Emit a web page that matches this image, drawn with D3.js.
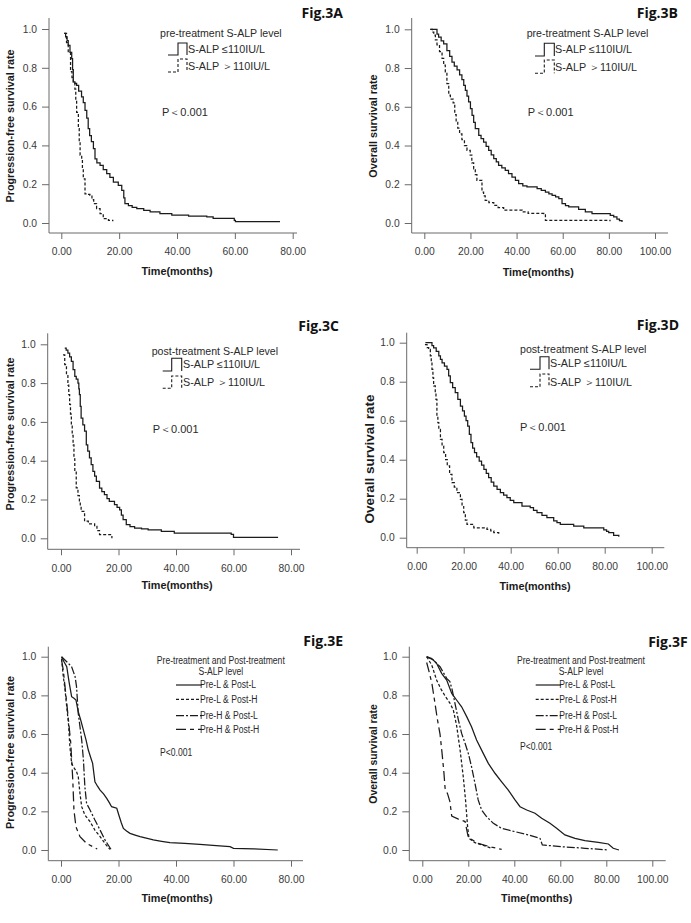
<!DOCTYPE html>
<html><head><meta charset="utf-8">
<script src="https://cdn.jsdelivr.net/npm/d3@7/dist/d3.min.js"></script>
<style>
html,body{margin:0;padding:0;background:#fff;}
svg{display:block;font-family:"Liberation Sans",Arial,sans-serif;}
</style></head><body>
<svg id="chart" width="691" height="923"></svg>
<script>
// ---------- DATA (time in months, survival proportion) ----------
const yTicks = [0, 0.2, 0.4, 0.6, 0.8, 1.0];
const xTicks80 = [0, 20, 40, 60, 80];
const xTicks100 = [0, 20, 40, 60, 80, 100];
const figLabels = ["Fig.3A", "Fig.3B", "Fig.3C", "Fig.3D", "Fig.3E", "Fig.3F"];
const yTitles = ["Progression-free survival rate", "Overall survival rate", "Progression-free survival rate",
                 "Overall survival rate", "Progression-free survival rate", "Overall survival rate"];
const xTitle = "Time(months)";
const legendTitles2 = ["pre-treatment S-ALP level", "post-treatment S-ALP level"];
const legendItems2 = ["S-ALP \u2264110IU/L", "S-ALP \uFF1E110IU/L"];
const legendTitle4 = ["Pre-treatment and Post-treatment", "S-ALP level"];
const legendItems4 = ["Pre-L & Post-L", "Pre-L & Post-H", "Pre-H & Post-L", "Pre-H & Post-H"];
const pTextWide = "P\uFF1C0.001";
const pTextNarrow = "P<0.001";

// Fig.3A PFS by pre-treatment S-ALP
const a_low = [[1.0,0.978],[1.5,0.96],[2.0,0.94],[2.4,0.916],[3.0,0.88],[3.6,0.847],[3.9,0.79],[4.15,0.727],[4.7,0.72],[5.3,0.71],[6.0,0.68],[7.0,0.65],[7.6,0.62],[8.2,0.58],[8.8,0.54],[9.3,0.486],[9.8,0.45],[10.4,0.42],[11.1,0.383],[11.65,0.33],[12.3,0.31],[13.4,0.297],[14.5,0.275],[15.7,0.254],[16.8,0.235],[18.0,0.211],[19.7,0.194],[20.9,0.168],[21.6,0.13],[22.0,0.1],[23.2,0.09],[24.5,0.08],[26.1,0.074],[28.5,0.065],[30.7,0.057],[34.1,0.048],[38.2,0.04],[44,0.036],[50.3,0.031],[52.5,0.024],[59.8,0.014],[60.2,0.007],[75.6,0.007]];
const a_high = [[1.0,0.978],[1.8,0.93],[2.4,0.88],[3.2,0.78],[3.7,0.75],[4.15,0.727],[4.7,0.69],[5.0,0.63],[5.3,0.57],[5.9,0.486],[6.2,0.42],[6.5,0.35],[7.05,0.33],[7.3,0.28],[7.6,0.228],[8.2,0.15],[9.0,0.147],[9.9,0.143],[10.6,0.12],[11.2,0.1],[12.2,0.074],[13.4,0.048],[14.5,0.022],[16.3,0.013],[17.8,0.009]];
// Fig.3B OS by pre-treatment S-ALP
const b_low = [[2.6,1.0],[5.5,0.975],[6.2,0.96],[7.3,0.94],[8.4,0.925],[9.8,0.89],[11,0.86],[12,0.83],[13,0.81],[14.2,0.79],[15.3,0.765],[16.3,0.74],[17.1,0.71],[17.8,0.685],[18.5,0.655],[19.2,0.625],[20,0.59],[20.7,0.556],[21.4,0.52],[22.1,0.487],[23.6,0.453],[24.6,0.435],[25.7,0.418],[26.8,0.395],[27.9,0.375],[29,0.352],[30.1,0.332],[31.2,0.315],[32.2,0.298],[33.6,0.285],[35.1,0.272],[36.5,0.255],[38,0.237],[39.5,0.22],[40.9,0.203],[42.7,0.192],[44.5,0.186],[48.9,0.177],[50.7,0.168],[52.5,0.16],[54,0.15],[55.4,0.143],[56.9,0.135],[58.3,0.126],[59.7,0.1],[61.2,0.09],[62.6,0.083],[66.9,0.07],[69.8,0.057],[72.7,0.048],[80.6,0.04],[82.1,0.031],[83.5,0.02],[84.6,0.012],[85.7,0.005]];
const b_high = [[2.6,1.0],[3.5,0.985],[4.1,0.97],[4.8,0.945],[5.5,0.92],[6.6,0.885],[7.7,0.85],[8.4,0.815],[9.1,0.78],[9.8,0.72],[10.6,0.66],[11.3,0.64],[12.5,0.62],[13.2,0.56],[13.8,0.52],[14.5,0.49],[15.3,0.46],[16.3,0.43],[17.4,0.4],[18.5,0.375],[19.9,0.35],[20.6,0.31],[21.4,0.28],[22.1,0.25],[22.8,0.22],[24.3,0.22],[25,0.16],[25.7,0.14],[26.4,0.117],[28,0.105],[30.1,0.091],[32,0.08],[34.4,0.066],[42.4,0.057],[45,0.05],[51.8,0.048],[52.5,0.014],[80.5,0.009]];
// Fig.3C PFS by post-treatment S-ALP
const c_low = [[1.3,0.98],[1.8,0.97],[2.4,0.955],[3.0,0.935],[3.6,0.912],[4.2,0.87],[4.8,0.835],[5.3,0.82],[5.9,0.8],[6.2,0.77],[6.4,0.74],[6.7,0.68],[7.0,0.62],[7.6,0.585],[8.2,0.552],[8.8,0.482],[9.3,0.45],[9.9,0.414],[10.5,0.38],[11.1,0.345],[11.7,0.32],[12.3,0.294],[13.4,0.259],[14.2,0.24],[15.1,0.225],[16.0,0.205],[16.8,0.19],[18.6,0.173],[19.5,0.16],[20.4,0.147],[21.0,0.12],[21.6,0.096],[22.7,0.07],[24,0.06],[25.6,0.053],[28,0.048],[30.3,0.044],[34.9,0.036],[39.4,0.027],[52,0.027],[59.2,0.02],[60,0.005],[75.5,0.005]];
const c_high = [[0.7,0.946],[1.3,0.895],[1.9,0.843],[2.4,0.79],[2.7,0.74],[3.0,0.69],[3.3,0.64],[3.6,0.585],[3.9,0.53],[4.2,0.482],[4.5,0.41],[4.8,0.345],[5.3,0.26],[5.9,0.22],[6.4,0.19],[6.7,0.16],[7.0,0.139],[8.2,0.088],[9.5,0.075],[11.7,0.062],[12.5,0.04],[13.4,0.019],[17.7,0.0]];
// Fig.3D OS by post-treatment S-ALP
const d_low = [[3.7,1.0],[6.5,0.985],[7.2,0.974],[8.3,0.955],[9.4,0.932],[10.1,0.915],[10.8,0.897],[11.8,0.88],[12.9,0.863],[13.6,0.83],[14.3,0.795],[15.3,0.77],[16.4,0.744],[17.5,0.71],[18.6,0.675],[19.5,0.65],[20.3,0.624],[21.0,0.6],[21.7,0.572],[22.4,0.53],[23.1,0.487],[23.8,0.46],[24.6,0.436],[25.5,0.415],[26.6,0.393],[27.6,0.372],[28.6,0.35],[29.6,0.33],[30.6,0.308],[31.7,0.285],[32.8,0.265],[34.2,0.248],[35.6,0.231],[37,0.218],[38.4,0.205],[39.8,0.192],[41.3,0.18],[44.8,0.162],[48.3,0.154],[49.7,0.14],[51.2,0.128],[53.3,0.115],[55.4,0.103],[58.3,0.086],[59.7,0.077],[61.1,0.068],[66.8,0.06],[71.1,0.051],[79.6,0.04],[80.8,0.033],[81.7,0.026],[83.8,0.012],[86,0.005]];
const d_high = [[3.5,0.99],[4.4,0.975],[5.1,0.966],[5.8,0.932],[6.2,0.9],[6.5,0.863],[6.9,0.82],[7.2,0.778],[7.9,0.74],[8.2,0.71],[8.6,0.624],[9.0,0.59],[9.4,0.556],[10.1,0.504],[10.8,0.47],[11.5,0.436],[12.3,0.4],[13.0,0.368],[14.0,0.325],[15,0.282],[16,0.26],[17.1,0.231],[18.6,0.197],[19.3,0.16],[20,0.128],[20.7,0.09],[21.4,0.068],[24.3,0.051],[29.9,0.043],[31.5,0.035],[32.8,0.026],[34.9,0.012]];
// Fig.3E PFS by combined pre/post-treatment S-ALP
const e_LL = [[0.2,1.0],[1.0,0.975],[2.0,0.948],[2.8,0.87],[3.7,0.793],[4.5,0.785],[5.2,0.776],[6.0,0.716],[6.9,0.67],[7.8,0.62],[8.7,0.57],[9.5,0.517],[10.3,0.48],[11,0.448],[11.8,0.353],[12.7,0.33],[13.6,0.31],[14.8,0.29],[15.9,0.267],[16.8,0.245],[17.6,0.224],[19.4,0.216],[20.3,0.172],[21,0.14],[21.7,0.112],[22.8,0.098],[24,0.086],[25.8,0.077],[27.5,0.069],[30,0.06],[32.1,0.052],[35,0.045],[37.9,0.038],[43,0.034],[48.3,0.029],[54,0.023],[58.8,0.017],[60,0.009],[67,0.006],[75.4,0.0]];
const e_LH = [[0.2,0.99],[0.8,0.897],[1.4,0.83],[2.0,0.74],[2.6,0.655],[3.1,0.534],[3.7,0.448],[4.3,0.431],[5.4,0.405],[6.0,0.38],[6.6,0.293],[7.2,0.224],[8.3,0.181],[10.1,0.147],[11.8,0.103],[13.6,0.069],[15.3,0.034],[17,0.003]];
const e_HL = [[0.2,1.0],[2.0,0.974],[3.7,0.948],[4.9,0.897],[5.4,0.845],[6.0,0.707],[6.6,0.638],[7.2,0.569],[7.8,0.466],[8.3,0.328],[8.9,0.241],[10.1,0.207],[11.8,0.155],[13.6,0.103],[15.3,0.052],[17.4,0.003]];
const e_HH = [[0.2,0.983],[0.8,0.93],[1.4,0.845],[2.0,0.76],[2.6,0.672],[3.4,0.552],[4.1,0.362],[4.5,0.207],[5.2,0.12],[6.6,0.069],[8.9,0.034],[12.6,0.005]];
// Fig.3F OS by combined pre/post-treatment S-ALP
const f_LL = [[1.9,1.0],[4.1,0.99],[6.2,0.966],[8.4,0.914],[10.6,0.879],[12.8,0.81],[14.9,0.776],[17.1,0.741],[19.3,0.69],[21.4,0.638],[23.6,0.569],[26.5,0.5],[28.7,0.448],[31.6,0.397],[34.5,0.353],[37.4,0.31],[40.3,0.259],[42.5,0.224],[45.4,0.207],[49,0.19],[51.9,0.164],[55.5,0.138],[58.4,0.112],[62,0.078],[66.4,0.06],[70.7,0.048],[76.5,0.04],[80.9,0.031],[83,0.009],[85.5,0.0]];
const f_LH = [[1.9,1.0],[4.1,0.957],[6.2,0.88],[8.0,0.835],[10.0,0.795],[12.0,0.76],[13.5,0.724],[14.9,0.645],[16.4,0.52],[17.8,0.38],[18.8,0.259],[19.7,0.12],[20.3,0.06],[22.9,0.038],[27.2,0.021],[30.1,0.009]];
const f_HL = [[1.9,1.0],[4.8,0.983],[7.7,0.948],[10.6,0.888],[12,0.871],[13,0.828],[14.2,0.759],[15.7,0.672],[17.1,0.603],[18.6,0.552],[20,0.5],[21.4,0.431],[22.9,0.345],[24.3,0.259],[25.8,0.207],[28,0.172],[30.9,0.138],[34.5,0.112],[40.3,0.095],[46.1,0.078],[51.2,0.06],[52.2,0.026],[60.6,0.017],[70.7,0.009],[80.9,0.0]];
const f_HH = [[1.9,0.97],[3.0,0.92],[4.2,0.86],[5.5,0.76],[6.5,0.68],[7.7,0.6],[8.6,0.5],[9.4,0.4],[9.9,0.32],[11,0.29],[12,0.25],[12.8,0.175],[15.7,0.16],[18.6,0.147],[19.4,0.1],[20,0.065],[24.3,0.034],[30.1,0.015],[34.5,0.003]];

// ---------- DRAWING ----------
const svg = d3.select("#chart");
const INK = "#1b1b1b";
const dashStyles = { solid: null, dash: "3,2", dot: "3,2", dashdot: "8,2,2,2", longdash: "10,4,4,4" };

const panels = [
  { fig: 0, series: [a_low, a_high], styles: ["solid","dash"], step: true, xTicks: xTicks80,
    ax: 49, top: 18, axisY: 233, right: 297, x0: 61.3, xEnd: 292.7, y0: 223, y1: 29,
    figPos: [343, 18], yt: [10, 126, 10.8], xt: [177, 275],
    leg2: { title: legendTitles2[0], tx: 160, ty: 37, sx: 168, ss: 178, se: 187, textX: 188,
            rows: [[55, 43, 53], [72, 59, 70]], px: 162, py: 115.5 } },
  { fig: 1, series: [b_low, b_high], styles: ["solid","dash"], step: true, xTicks: xTicks100,
    ax: 411.7, top: 18, axisY: 233, right: 668, x0: 424.3, xEnd: 655, y0: 223, y1: 29.3,
    figPos: [678, 18], yt: [373.3, 126, 10.8], xt: [538.3, 276],
    leg2: { title: legendTitles2[0], tx: 526.7, ty: 37, sx: 535, ss: 544.3, se: 554.3, textX: 555,
            rows: [[56, 43.3, 53], [73.3, 60, 71]], px: 527.7, py: 115.7 } },
  { fig: 2, series: [c_low, c_high], styles: ["solid","dash"], step: true, xTicks: xTicks80,
    ax: 47.7, top: 333.3, axisY: 549.3, right: 300, x0: 61, xEnd: 291, y0: 538.3, y1: 344.3,
    figPos: [339, 330.5], yt: [10.7, 434, 10.8], xt: [177, 589],
    leg2: { title: legendTitles2[1], tx: 151.7, ty: 355, sx: 162.7, ss: 171.7, se: 181.7, textX: 183,
            rows: [[371, 358.3, 368.3], [388.3, 376, 385.7]], px: 152.7, py: 432.7 } },
  { fig: 3, series: [d_low, d_high], styles: ["solid","dash"], step: true, xTicks: xTicks100,
    ax: 406.7, top: 332.7, axisY: 547.7, right: 664.3, x0: 416.7, xEnd: 651.7, y0: 537.7, y1: 342.7,
    figPos: [679, 330], yt: [369, 459, 13.5], xt: [535, 590],
    leg2: { title: legendTitles2[1], tx: 520, ty: 353.3, sx: 530, ss: 540, se: 549, textX: 550,
            rows: [[369.3, 356.7, 367.3], [386.7, 374, 385.7]], px: 520, py: 431 } },
  { fig: 4, series: [e_LL, e_LH, e_HL, e_HH], styles: ["solid","dot","dashdot","longdash"], step: false, xTicks: xTicks80,
    ax: 48.3, top: 646.7, axisY: 860.7, right: 303, x0: 61, xEnd: 291, y0: 850, y1: 656.7,
    figPos: [343, 645.7], yt: [10.7, 752.5, 10.8], xt: [177, 902],
    leg4: { cx: 220.8, t1: 664, t2: 675.3, lx0: 176, lx1: 201.7, textX: 200, titleW: 128,
            lines: [685, 699.3, 715.7, 729.3], texts: [688.3, 703, 719, 733.3], px: 160, py: 756 } },
  { fig: 5, series: [f_LL, f_LH, f_HL, f_HH], styles: ["solid","dot","dashdot","longdash"], step: false, xTicks: xTicks100,
    ax: 409.3, top: 646.7, axisY: 860.7, right: 665.7, x0: 422.3, xEnd: 652.3, y0: 850, y1: 656.7,
    figPos: [687.7, 646.7], yt: [373.3, 754, 10.4], xt: [536.7, 902],
    leg4: { cx: 581, t1: 664, t2: 675.3, lx0: 535.7, lx1: 561, textX: 559.3, titleW: 128,
            lines: [685, 699.3, 715.7, 729.3], texts: [688.3, 703, 719, 733.3], px: 520, py: 750 } }
];

panels.forEach(p => {
  const g = svg.append("g");
  const xMax = p.xTicks[p.xTicks.length - 1];
  const x = d3.scaleLinear().domain([0, xMax]).range([p.x0, p.xEnd]);
  const y = d3.scaleLinear().domain([0, 1]).range([p.y0, p.y1]);

  // axis lines
  g.append("line").attr("x1", p.ax).attr("x2", p.ax).attr("y1", p.top).attr("y2", p.axisY)
    .attr("stroke", "#6a6a6a").attr("stroke-width", 1);
  g.append("line").attr("x1", p.ax).attr("x2", p.right).attr("y1", p.axisY).attr("y2", p.axisY)
    .attr("stroke", "#6a6a6a").attr("stroke-width", 1);

  // y axis ticks
  const ya = g.append("g").attr("transform", `translate(${p.ax},0)`)
    .call(d3.axisLeft(y).tickValues(yTicks).tickSize(7).tickPadding(5).tickFormat(d3.format(".1f")));
  ya.select(".domain").remove();
  ya.selectAll("line").attr("stroke", "#6a6a6a");
  ya.selectAll("text").attr("font-family", "'Liberation Sans',Arial,sans-serif").attr("font-size", 10.3).attr("fill", "#3a3a3a");

  // x axis ticks
  const xa = g.append("g").attr("transform", `translate(0,${p.axisY})`)
    .call(d3.axisBottom(x).tickValues(p.xTicks).tickSize(6).tickPadding(9).tickFormat(d3.format(".2f")));
  xa.select(".domain").remove();
  xa.selectAll("line").attr("stroke", "#6a6a6a");
  xa.selectAll("text").attr("font-family", "'Liberation Sans',Arial,sans-serif").attr("font-size", 10.3).attr("fill", "#3a3a3a");

  // titles
  g.append("text").attr("x", p.figPos[0]).attr("y", p.figPos[1]).attr("text-anchor", "end")
    .attr("font-family", "'Open Sans','Liberation Sans',sans-serif").attr("font-weight", 700)
    .attr("font-size", 14).attr("fill", "#111").text(figLabels[p.fig]);
  g.append("text").attr("transform", `translate(${p.yt[0]},${p.yt[1]}) rotate(-90)`)
    .attr("text-anchor", "middle").attr("dy", "0.35em").attr("font-weight", 700)
    .attr("font-size", p.yt[2]).attr("fill", "#1a1a1a").text(yTitles[p.fig]);
  g.append("text").attr("x", p.xt[0]).attr("y", p.xt[1]).attr("text-anchor", "middle")
    .attr("font-weight", 700).attr("font-size", 10.8).attr("fill", "#1a1a1a").text(xTitle);

  // curves
  const line = d3.line().x(d => x(d[0])).y(d => y(d[1]))
    .curve(p.step ? d3.curveStepAfter : d3.curveLinear);
  p.series.forEach((s, i) => {
    g.append("path").datum(s).attr("d", line).attr("fill", "none")
      .attr("stroke", INK).attr("stroke-width", 1.25)
      .attr("stroke-dasharray", dashStyles[p.styles[i]]);
  });

  // legends
  if (p.leg2) {
    const L = p.leg2;
    g.append("text").attr("x", L.tx).attr("y", L.ty).attr("font-size", 10.6).attr("fill", "#2a2a2a").text(L.title);
    L.rows.forEach((r, i) => {
      g.append("path").attr("d", `M${L.sx},${r[0]}H${L.ss}V${r[1]}H${L.se}V${r[0]}`)
        .attr("fill", "none").attr("stroke", INK).attr("stroke-width", 1.1)
        .attr("stroke-dasharray", dashStyles[p.styles[i]]);
      g.append("text").attr("x", L.textX).attr("y", r[2]).attr("font-size", 10.8).attr("fill", "#2a2a2a")
        .text(legendItems2[i]);
    });
    g.append("text").attr("x", L.px).attr("y", L.py).attr("font-size", 11).attr("fill", "#2a2a2a").text(pTextWide);
  }
  if (p.leg4) {
    const L = p.leg4;
    const lg = g.append("g").attr("font-size", 10).attr("fill", "#2a2a2a");
    const t1 = lg.append("text").attr("x", L.cx).attr("y", L.t1).attr("text-anchor", "middle").text(legendTitle4[0]);
    lg.append("text").attr("x", L.cx).attr("y", L.t2).attr("text-anchor", "middle").text(legendTitle4[1]);
    legendItems4.forEach((t, i) => {
      g.append("line").attr("x1", L.lx0).attr("x2", L.lx1).attr("y1", L.lines[i]).attr("y2", L.lines[i])
        .attr("stroke", INK).attr("stroke-width", 1.2).attr("stroke-dasharray", dashStyles[p.styles[i]]);
      lg.append("text").attr("x", L.textX).attr("y", L.texts[i]).text(t);
    });
    lg.append("text").attr("x", L.px).attr("y", L.py).text(pTextNarrow);
    // condense the legend lettering horizontally (narrow face in the original)
    const k = L.titleW / t1.node().getComputedTextLength();
    lg.selectAll("text").each(function () {
      const w = this.getComputedTextLength();
      d3.select(this).attr("textLength", w * k).attr("lengthAdjust", "spacingAndGlyphs");
    });
  }
});
</script>
</body></html>
